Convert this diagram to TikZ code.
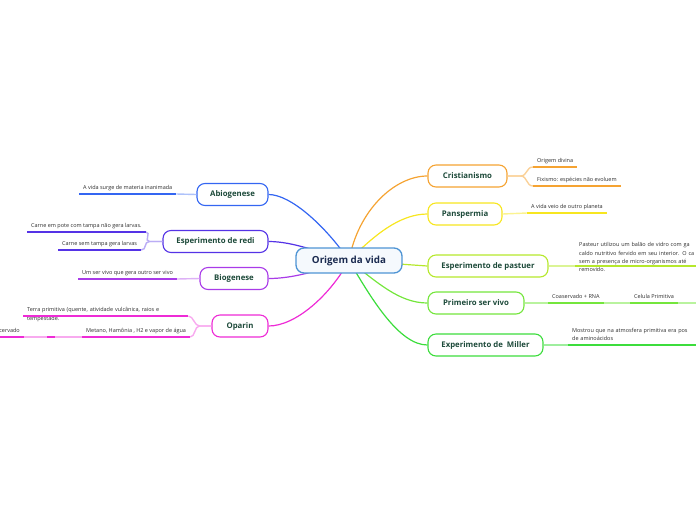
\documentclass[tikz,border=0pt]{standalone}
\usepackage{fontspec}
\setmainfont{Open Sans}
\usetikzlibrary{backgrounds,calc}
\definecolor{rootblue}{HTML}{4E94D4}
\definecolor{rootfill}{HTML}{F5F9FD}
\definecolor{navy}{HTML}{1B2B50}
\definecolor{labelgreen}{HTML}{1D4A3A}
\definecolor{leafgray}{HTML}{2E2E2E}
\definecolor{abiblue}{HTML}{3466F2}
\definecolor{rediblue}{HTML}{5533E6}
\definecolor{biopurple}{HTML}{A93BE8}
\definecolor{oparpink}{HTML}{EE2BD6}
\definecolor{crisorange}{HTML}{F5A332}
\definecolor{panyellow}{HTML}{F7E620}
\definecolor{pastlime}{HTML}{B6E82C}
\definecolor{primgreen}{HTML}{74E63C}
\definecolor{millgreen}{HTML}{3CDD3C}
\tikzset{
  rootbox/.style={draw=rootblue, fill=rootfill, rounded corners=8pt, line width=1.3pt, minimum width=106pt, minimum height=25pt, inner sep=0pt, text=navy, font=\bfseries\fontsize{9.8}{11}\selectfont},
  box/.style={fill=white, rounded corners=8pt, line width=1.1pt, minimum height=22pt, inner sep=0pt, text=labelgreen, font=\bfseries\fontsize{7.8}{9}\selectfont},
  leaf/.style={anchor=south west, align=left, inner xsep=4pt, inner ysep=4pt, text depth=0pt, text=leafgray, font=\fontsize{5.5}{8.3}\selectfont},
  leaflabel/.style={anchor=base west, inner sep=0pt, xshift=4pt, yshift=-5pt, text=leafgray, font=\fontsize{5.5}{8.3}\selectfont},
  link/.style={line width=1.2pt},
  twig/.style={line width=1.4pt},
  underline/.style={line width=2pt}
}
\begin{document}
\begin{tikzpicture}[x=1pt, y=-1pt]
  \useasboundingbox (0,0) rectangle (696,520);
  \node[rootbox] (root) at (349,260.5) {Origem da vida};
  % right side
  \node[box, draw=crisorange, minimum width=79pt] (cris) at (467.5,176) {Cristianismo};
  \node[box, draw=panyellow, minimum width=74pt] (pans) at (465,214) {Panspermia};
  \node[box, draw=pastlime, minimum width=120pt] (past) at (488,266) {Esperimento de pastuer};
  \node[box, draw=primgreen, minimum width=96pt] (prim) at (476,303) {Primeiro ser vivo};
  \node[box, draw=millgreen, minimum width=115pt] (mill) at (485.5,345) {Experimento de~~Miller};
  % left side
  \node[box, draw=abiblue, minimum width=71pt] (abi) at (232.5,194.5) {Abiogenese};
  \node[box, draw=rediblue, minimum width=105pt] (redi) at (215.5,241.5) {Esperimento de redi};
  \node[box, draw=biopurple, minimum width=68pt] (bio) at (234,278.5) {Biogenese};
  \node[box, draw=oparpink, minimum width=56pt] (opa) at (240,326) {Oparin};
  % leaves right
  \node[leaf] (crisdiv) at (533,167) {Origem divina};
  \node[leaf] (crisfix) at (533,186) {Fixismo: espécies não evoluem};
  \node[leaf] (panleaf) at (527,213) {A vida veio de outro planeta};
  \node[leaf, text width=150pt, text depth=15.1pt, label={[leaflabel, yshift=-0.8pt]south west:removido.}] (pastleaf) at (575,266) {Pasteur utilizou um balão de vidro com ga\\caldo nutritivo fervido em seu interior. O ca\\sem a presença de micro-organismos até};
  \node[leaf] (primcoa) at (548,303) {Coaservado + RNA};
  \node[leaf] (primcel) at (630,303) {Celula Primitiva};
  \coordinate (primnext) at (700,303);
  \node[leaf, text width=150pt, text depth=8.3pt] (millleaf) at (568,345) {Mostrou que na atmosfera primitiva era pos\\de aminoácidos};
  % leaves left
  \node[leaf] (abileaf) at (79,194) {A vida surge de materia inanimada};
  \node[leaf] (redipote) at (27,232) {Carne em pote com tampa não gera larvas.};
  \node[leaf] (redisem) at (58,250) {Carne sem tampa gera larvas};
  \node[leaf] (bioleaf) at (78,279) {Um ser vivo que gera outro ser vivo};
  \node[leaf, text width=157pt, label={[leaflabel, yshift=0.5pt]south west:tempestade.}] (opaterra) at (23,316) {Terra primitiva (quente, atividade vulcânica, raios e};
  \node[leaf] (opameta) at (82,337) {Metano, Hamônia , H2 e vapor de água};
  \node[leaf, minimum width=8pt, inner xsep=0pt] (opaempty) at (47,337) {};
  \node[leaf, anchor=south east] (opacoa) at (24,337) {Coacervado};

  \begin{scope}[on background layer]
    \draw[link, crisorange] (root.center) .. controls +(9,-50) and +(-33,0) .. (cris.west);
    \draw[link, panyellow] (root.center) .. controls +(25,-25) and +(-28,0) .. (pans.west);
    \draw[link, pastlime] (root.center) -- (past.west);
    \draw[link, primgreen] (root.center) .. controls +(29,22.5) and +(-28,0) .. (prim.west);
    \draw[link, millgreen] (root.center) .. controls +(23,39.5) and +(-28,0) .. (mill.west);
    \draw[link, abiblue] (root.center) .. controls +(-24,-35) and +(22,0) .. (abi.east);
    \draw[link, rediblue] (root.center) .. controls +(-30,-8) and +(25,0) .. (redi.east);
    \draw[link, biopurple] (root.center) .. controls +(-30,10) and +(25,0) .. (bio.east);
    \draw[link, oparpink] (root.center) .. controls +(-19,35) and +(27,0) .. (opa.east);
  \end{scope}

  % twigs to the leaves
  \draw[twig, crisorange!50] (cris.east) -- ++(13,0) .. controls +(7,0) and +(-7,0) .. (crisdiv.south west);
  \draw[twig, crisorange!50] (cris.east) -- ++(13,0) .. controls +(7,0) and +(-7,0) .. (crisfix.south west);
  \draw[twig, panyellow!50] (pans.east) -- (panleaf.south west);
  \draw[twig, pastlime!50] (past.east) -- (pastleaf.south west);
  \draw[twig, primgreen!50] (prim.east) -- (primcoa.south west);
  \draw[twig, primgreen!50] (primcoa.south east) -- (primcel.south west);
  \draw[twig, primgreen!50] (primcel.south east) -- (primnext);
  \draw[twig, millgreen!50] (mill.east) -- (millleaf.south west);
  \draw[twig, abiblue!40] (abi.west) -- (abileaf.south east);
  \draw[twig, rediblue!40] (redi.west) -- ++(-13,0) .. controls +(-6,0) and +(6,0) .. (redipote.south east);
  \draw[twig, rediblue!40] (redi.west) -- ++(-13,0) .. controls +(-6,0) and +(6,0) .. (redisem.south east);
  \draw[twig, biopurple!40] (bio.west) -- (bioleaf.south east);
  \draw[twig, oparpink!40] (opa.west) -- ++(-12,0) .. controls +(-5,0) and +(5,0) .. (opaterra.south east);
  \draw[twig, oparpink!40] (opa.west) -- ++(-12,0) .. controls +(-5,0) and +(5,0) .. (opameta.south east);
  \draw[twig, oparpink!40] (opameta.south west) -- (opaempty.south east);
  \draw[twig, oparpink!40] (opaempty.south west) -- (opacoa.south east);

  % underlines
  \draw[underline, crisorange] (crisdiv.south west) -- (crisdiv.south east);
  \draw[underline, crisorange] (crisfix.south west) -- (crisfix.south east);
  \draw[underline, panyellow] (panleaf.south west) -- (panleaf.south east);
  \draw[underline, pastlime] (pastleaf.south west) -- (pastleaf.south east);
  \draw[underline, primgreen] (primcoa.south west) -- (primcoa.south east);
  \draw[underline, primgreen] (primcel.south west) -- (primcel.south east);
  \draw[underline, millgreen] (millleaf.south west) -- (millleaf.south east);
  \draw[underline, abiblue] (abileaf.south west) -- (abileaf.south east);
  \draw[underline, rediblue] (redipote.south west) -- (redipote.south east);
  \draw[underline, rediblue] (redisem.south west) -- (redisem.south east);
  \draw[underline, biopurple] (bioleaf.south west) -- (bioleaf.south east);
  \draw[underline, oparpink] (opaterra.south west) -- (opaterra.south east);
  \draw[underline, oparpink] (opameta.south west) -- (opameta.south east);
  \draw[underline, oparpink] (opaempty.south west) -- (opaempty.south east);
  \draw[underline, oparpink] (opacoa.south west) -- (opacoa.south east);
\end{tikzpicture}
\end{document}
